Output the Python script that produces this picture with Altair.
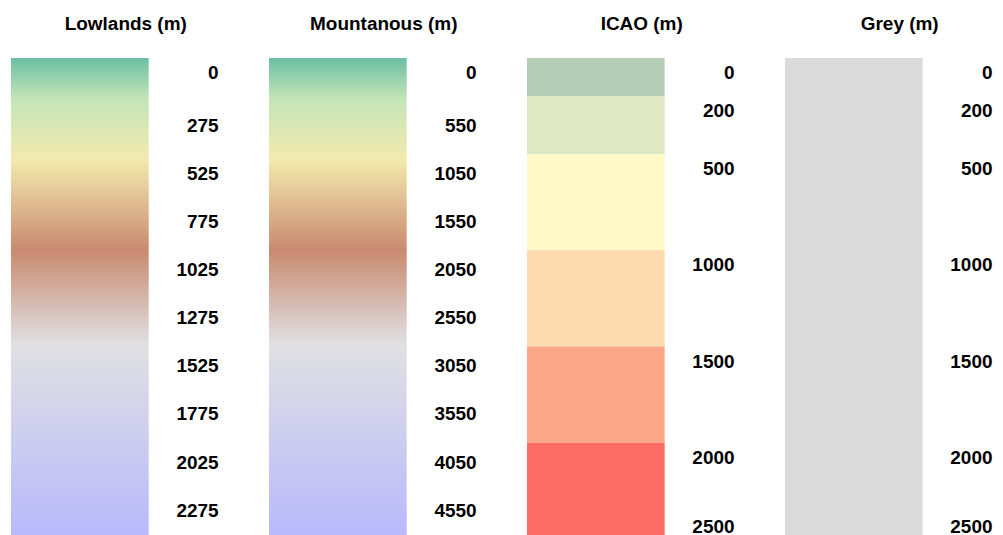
import altair as alt
import pandas as pd

FONT = "Liberation Sans"

titles = ["Lowlands (m)", "Mountanous (m)", "ICAO (m)", "Grey (m)"]

# tick labels
lowland_ticks = [0, 275, 525, 775, 1025, 1275, 1525, 1775, 2025, 2275]
mountain_ticks = [0, 550, 1050, 1550, 2050, 2550, 3050, 3550, 4050, 4550]
icao_ticks = [0, 200, 500, 1000, 1500, 2000]
icao_end = [2500]
grey_ticks = [0, 200, 500, 1000, 1500, 2000]
grey_end = [2500]

# continuous relief ramp (lowlands scale; mountainous is the same ramp over a doubled range)
relief_stop_values = [0, 215, 530, 1000, 1490, 2500]
relief_stop_colors = ["#6bbfa3", "#c4e5b8", "#f3e9ad", "#c98a6f", "#e0e0e3", "#b8b8fd"]
lowland_max = 2500
mountain_max = 5000

# ICAO stepped classes
icao_lo = [0, 200, 500, 1000, 1500, 2000]
icao_hi = [200, 500, 1000, 1500, 2000, 2500]
icao_colors = ["#b3ceb4", "#dfe8c3", "#fef9c6", "#fddbaf", "#fca888", "#fe6b64"]
icao_max = 2500

# Grey single class
grey_lo = [0]
grey_hi = [2500]
grey_colors = ["#dadada"]
grey_max = 2500


def gradient(max_value, scale_factor):
    stops = [
        alt.GradientStop(color=c, offset=min(1.0, v * scale_factor / max_value))
        for v, c in zip(relief_stop_values, relief_stop_colors)
    ]
    return alt.LinearGradient(gradient="linear", stops=stops, x1=0, x2=0, y1=0, y2=1)


def yscale(dmax):
    return alt.Scale(domain=[0, dmax], reverse=True, nice=False, zero=False)


def label_layers(ticks, ends, dmax):
    layers = []
    df = pd.DataFrame({"v": ticks, "label": [str(t) for t in ticks]})
    layers.append(
        alt.Chart(df).mark_text(
            align="right", baseline="middle", dy=15, fontSize=19,
            fontWeight="bold", font=FONT, color="black"
        ).encode(
            x=alt.value(208),
            y=alt.Y("v:Q", scale=yscale(dmax), axis=None),
            text="label:N",
        )
    )
    if ends:
        de = pd.DataFrame({"v": ends, "label": [str(t) for t in ends]})
        layers.append(
            alt.Chart(de).mark_text(
                align="right", baseline="bottom", dy=-2, fontSize=19,
                fontWeight="bold", font=FONT, color="black"
            ).encode(
                x=alt.value(208),
                y=alt.Y("v:Q", scale=yscale(dmax), axis=None),
                text="label:N",
            )
        )
    return layers


def title(t):
    return alt.TitleParams(
        t, fontSize=19, fontWeight="bold", font=FONT, color="black",
        anchor="middle", offset=23.5, dx=10
    )


W, H = 210, 482


def ramp_panel(t, dmax, ticks):
    df = pd.DataFrame({"lo": [0], "hi": [dmax]})
    bar = alt.Chart(df).mark_rect(color=gradient(dmax, dmax / lowland_max)).encode(
        x=alt.value(0), x2=alt.value(138),
        y=alt.Y("lo:Q", scale=yscale(dmax), axis=None), y2="hi:Q",
    )
    return alt.layer(bar, *label_layers(ticks, [], dmax)).properties(
        width=W, height=H, title=title(t)
    )


def class_panel(t, dmax, lo, hi, colors, ticks, ends):
    df = pd.DataFrame({"lo": lo, "hi": hi, "c": colors})
    bar = alt.Chart(df).mark_rect().encode(
        x=alt.value(0), x2=alt.value(138),
        y=alt.Y("lo:Q", scale=yscale(dmax), axis=None), y2="hi:Q",
        color=alt.Color("c:N", scale=None, legend=None),
    )
    return alt.layer(bar, *label_layers(ticks, ends, dmax)).properties(
        width=W, height=H, title=title(t)
    )


chart = alt.hconcat(
    ramp_panel(titles[0], lowland_max, lowland_ticks),
    ramp_panel(titles[1], mountain_max, mountain_ticks),
    class_panel(titles[2], icao_max, icao_lo, icao_hi, icao_colors, icao_ticks, icao_end),
    class_panel(titles[3], grey_max, grey_lo, grey_hi, grey_colors, grey_ticks, grey_end),
    spacing=48.5,
).properties(
    padding={"left": 3, "top": 6.5, "right": 0, "bottom": 0},
    background="white",
).configure_view(stroke=None, strokeWidth=0)

chart.save("out.html", embed_options={"renderer": "svg", "actions": False})
